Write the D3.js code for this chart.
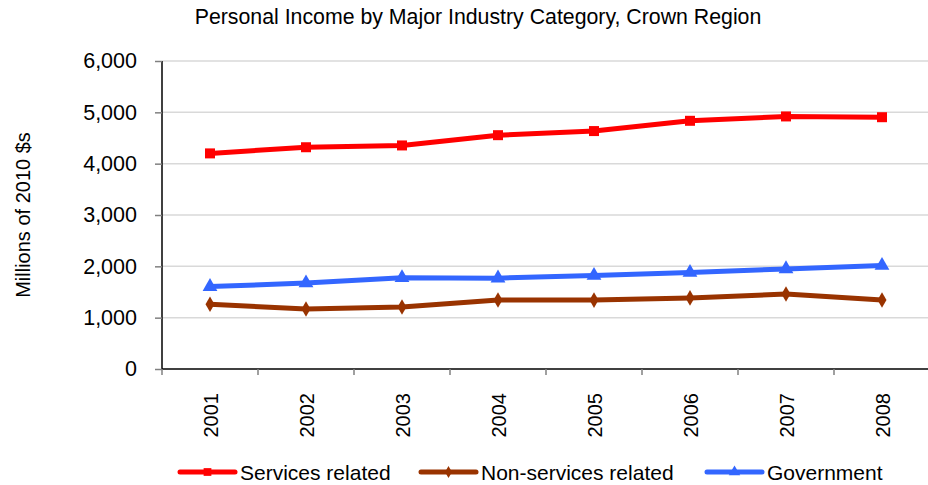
<!DOCTYPE html>
<html>
<head>
<meta charset="utf-8">
<script src="https://cdn.jsdelivr.net/npm/d3@7"></script>
<style>
  html, body { margin: 0; padding: 0; background: #fff; }
  svg { display: block; font-family: "Liberation Sans", Arial, sans-serif; }
</style>
</head>
<body>
<svg id="chart" width="928" height="485"></svg>
<script>
// Personal income by major industry category (millions of 2010 dollars)
const years = ["2001", "2002", "2003", "2004", "2005", "2006", "2007", "2008"];
const servicesRelated = [4200, 4320, 4355, 4555, 4635, 4835, 4920, 4905];
const nonServicesRelated = [1260, 1170, 1208, 1345, 1342, 1385, 1460, 1345];
const government = [1605, 1675, 1778, 1770, 1820, 1878, 1950, 2015];
const yTicks = [0, 1000, 2000, 3000, 4000, 5000, 6000];

const seriesNames = ["Services related", "Non-services related", "Government"];
const seriesValues = [servicesRelated, nonServicesRelated, government];
const seriesColors = ["#FF0000", "#993300", "#3366FF"];
const seriesSymbols = [d3.symbolSquare, d3.symbolDiamond, d3.symbolTriangle];
const symbolSizes = [100, 70, 95];

const svg = d3.select("#chart");
const plotLeft = 162, plotRight = 930, plotTop = 61, plotBottom = 369;

const x = d3.scaleBand().domain(years).range([plotLeft, plotRight]).padding(0);
const y = d3.scaleLinear().domain([0, 6000]).range([plotBottom, plotTop]);
const cx = d => x(d) + x.bandwidth() / 2;

// Title
svg.append("text")
  .attr("x", 478).attr("y", 24)
  .attr("text-anchor", "middle")
  .attr("font-size", 21.3)
  .text("Personal Income by Major Industry Category, Crown Region");

// Horizontal gridlines
svg.append("g")
  .selectAll("line")
  .data(yTicks.filter(t => t > 0))
  .join("line")
  .attr("x1", plotLeft).attr("x2", plotRight)
  .attr("y1", d => y(d)).attr("y2", d => y(d))
  .attr("stroke", "#D9D9D9").attr("stroke-width", 1.5);

// Y axis
const yAxis = svg.append("g")
  .attr("transform", `translate(${plotLeft},0)`)
  .call(d3.axisLeft(y).tickValues(yTicks).tickSize(7).tickPadding(18)
    .tickFormat(d3.format(",")));
yAxis.select(".domain").attr("stroke", "#000").attr("stroke-width", 1.5)
  .attr("d", `M0,${plotTop}V${plotBottom}`);
yAxis.selectAll(".tick line").attr("stroke", "#808080").attr("stroke-width", 1.5);
yAxis.selectAll(".tick text").attr("font-size", 21.5).attr("fill", "#000")
  .attr("font-family", "Liberation Sans, Arial, sans-serif");

// Y axis title
svg.append("text")
  .attr("transform", "translate(30,215) rotate(-90)")
  .attr("text-anchor", "middle")
  .attr("font-size", 20)
  .text("Millions of 2010 $s");

// X axis: baseline, boundary ticks, rotated year labels
const xAxis = svg.append("g")
  .attr("transform", `translate(0,${plotBottom})`)
  .call(d3.axisBottom(x).tickSize(0).tickPadding(0));
xAxis.select(".domain").attr("stroke", "#000").attr("stroke-width", 1.5)
  .attr("d", `M${plotLeft},0H${plotRight}`);
xAxis.selectAll(".tick text")
  .attr("font-size", 20).attr("fill", "#000")
  .attr("font-family", "Liberation Sans, Arial, sans-serif")
  .attr("text-anchor", "end")
  .attr("dy", null)
  .attr("transform", "translate(8,24) rotate(-90)")
  .attr("x", 0).attr("y", 0);

const boundaries = years.map(d => x(d)).concat([plotRight]);
svg.append("g")
  .selectAll("line")
  .data(boundaries)
  .join("line")
  .attr("x1", d => d).attr("x2", d => d)
  .attr("y1", plotBottom).attr("y2", plotBottom + 6)
  .attr("stroke", "#808080").attr("stroke-width", 1.5);

// Series lines and markers
const line = d3.line().x((d, i) => cx(years[i])).y(d => y(d));

seriesValues.forEach((vals, s) => {
  const g = svg.append("g");
  g.append("path")
    .datum(vals)
    .attr("d", line)
    .attr("fill", "none")
    .attr("stroke", seriesColors[s])
    .attr("stroke-width", 5)
    .attr("stroke-linejoin", "round");
  g.selectAll("path.m")
    .data(vals)
    .join("path")
    .attr("class", "m")
    .attr("transform", (d, i) => `translate(${cx(years[i])},${y(d)})`)
    .attr("d", d3.symbol().type(seriesSymbols[s]).size(symbolSizes[s]))
    .attr("fill", seriesColors[s]);
});

// Legend
const legendX = [180, 421, 707];
const legend = svg.append("g").attr("transform", "translate(0,472)");
seriesNames.forEach((name, s) => {
  const g = legend.append("g").attr("transform", `translate(${legendX[s]},0)`);
  g.append("line").attr("x1", 0).attr("x2", 55).attr("y1", 0).attr("y2", 0)
    .attr("stroke", seriesColors[s]).attr("stroke-width", 5).attr("stroke-linecap", "round");
  g.append("path").attr("transform", "translate(27.5,0)")
    .attr("d", d3.symbol().type(seriesSymbols[s]).size(symbolSizes[s] * 0.6))
    .attr("fill", seriesColors[s]);
  g.append("text").attr("x", 60).attr("y", 7.5)
    .attr("font-size", 21)
    .text(name);
});
</script>
</body>
</html>
